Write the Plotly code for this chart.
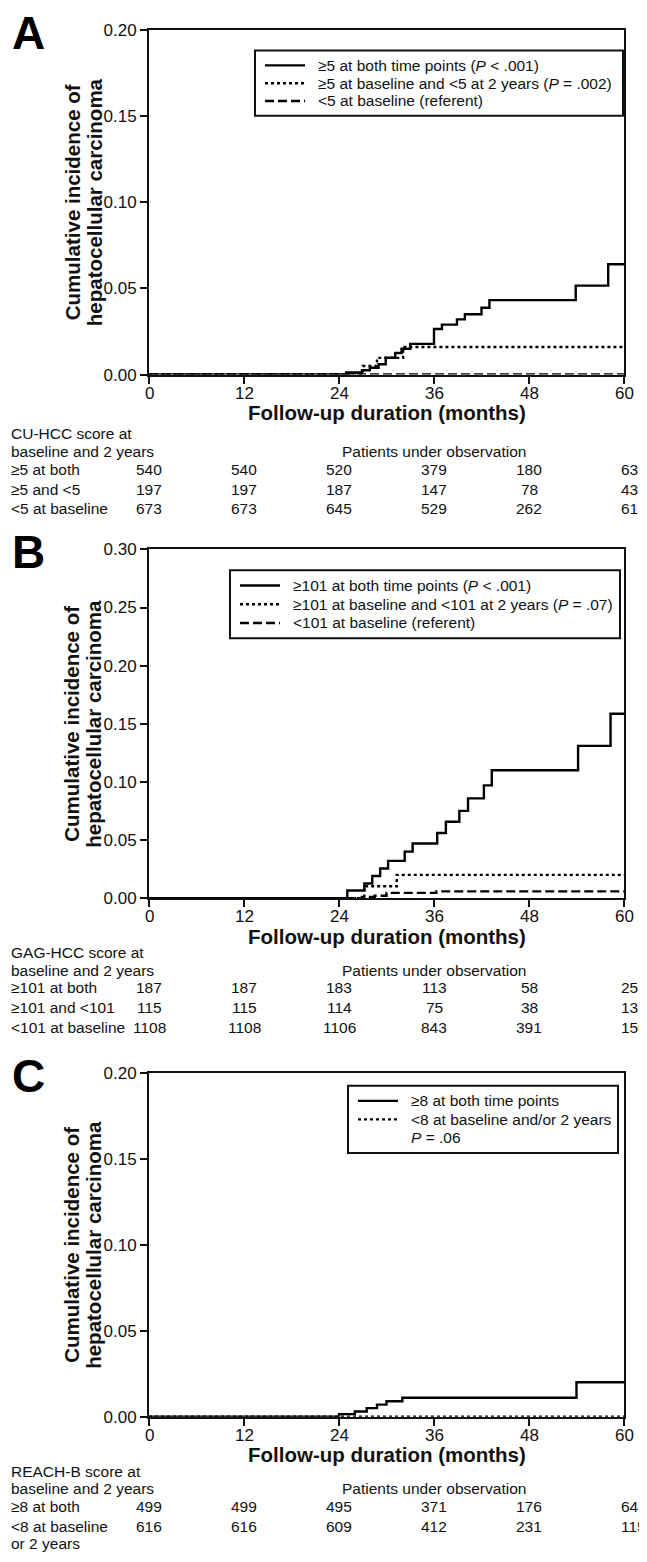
import plotly.graph_objects as go

# The page body has an 8px margin, so the figure is made 8px smaller and every
# position below is given in screen pixels of the 647x1562 window.
SCREEN_W, SCREEN_H = 647, 1562
OX, OY = 8, 8
FW, FH = SCREEN_W - OX, SCREEN_H - OY
FONT = "Liberation Sans, Arial, Helvetica, sans-serif"
INK = "#111"

month_ticks = [0, 12, 24, 36, 48, 60]

# ---------------- Panel A (CU-HCC) ----------------
a_both_x = [0, 24.9, 26.9, 27.9, 29.0, 29.9, 31.1, 31.9, 33.0, 36.0, 37.0, 38.9, 39.9, 42.0, 43.0, 53.9, 58.0, 60]
a_both_y = [0, 0.0012, 0.0025, 0.004, 0.006, 0.0098, 0.0125, 0.015, 0.0178, 0.0264, 0.029, 0.032, 0.035, 0.0388, 0.0432, 0.0516, 0.064, 0.064]
a_mixed_x = [0, 27.0, 28.8, 32.1, 60]
a_mixed_y = [0, 0.005, 0.0097, 0.016, 0.016]
a_low_x = [0, 60]
a_low_y = [0, 0]
a_names = ["≥5 at both time points (<i>P</i> &lt; .001)",
           "≥5 at baseline and &lt;5 at 2 years (<i>P</i> = .002)",
           "&lt;5 at baseline (referent)"]
a_yticks = [0.00, 0.05, 0.10, 0.15, 0.20]
a_head = ["CU-HCC score at", "baseline and 2 years"]
a_rows = ["≥5 at both", "≥5 and &lt;5", "&lt;5 at baseline"]
a_counts = [[540, 540, 520, 379, 180, 63],
            [197, 197, 187, 147, 78, 43],
            [673, 673, 645, 529, 262, 61]]

# ---------------- Panel B (GAG-HCC) ----------------
b_both_x = [0, 25.05, 27.2, 28.2, 29.2, 30.2, 32.3, 33.3, 36.4, 37.5, 39.2, 40.3, 42.3, 43.3, 54.2, 58.3, 60]
b_both_y = [0, 0.0065, 0.0125, 0.019, 0.0255, 0.032, 0.040, 0.047, 0.056, 0.0657, 0.075, 0.0858, 0.097, 0.110, 0.131, 0.1586, 0.1586]
b_mixed_x = [0, 27.2, 31.3, 60]
b_mixed_y = [0, 0.0102, 0.0200, 0.0200]
b_low_x = [0, 26.9, 28.5, 30.0, 36.3, 60]
b_low_y = [0, 0.001, 0.002, 0.0045, 0.0058, 0.0058]
b_names = ["≥101 at both time points (<i>P</i> &lt; .001)",
           "≥101 at baseline and &lt;101 at 2 years (<i>P</i> = .07)",
           "&lt;101 at baseline (referent)"]
b_yticks = [0.00, 0.05, 0.10, 0.15, 0.20, 0.25, 0.30]
b_head = ["GAG-HCC score at", "baseline and 2 years"]
b_rows = ["≥101 at both", "≥101 and &lt;101", "&lt;101 at baseline"]
b_counts = [[187, 187, 183, 113, 58, 25],
            [115, 115, 114, 75, 38, 13],
            [1108, 1108, 1106, 843, 391, 150]]

# ---------------- Panel C (REACH-B) ----------------
c_both_x = [0, 24.0, 26.0, 27.5, 28.8, 30.0, 32.0, 54.0, 60]
c_both_y = [0, 0.0015, 0.003, 0.005, 0.007, 0.009, 0.011, 0.020, 0.020]
c_low_x = [0, 60]
c_low_y = [0, 0]
c_names = ["≥8 at both time points", "&lt;8 at baseline and/or 2 years", "<i>P</i> = .06"]
c_yticks = [0.00, 0.05, 0.10, 0.15, 0.20]
c_head = ["REACH-B score at", "baseline and 2 years"]
c_rows = ["≥8 at both", "&lt;8 at baseline<br>or 2 years"]
c_counts = [[499, 499, 495, 371, 176, 64],
            [616, 616, 609, 412, 231, 115]]

# ---------------- layout geometry (screen pixels) ----------------
X0, X1 = 149, 624
panels = [
    dict(key="", top=21, base=370, ymax=0.20, yticks=a_yticks, letter="A",
         leg=dict(l=255, r=623, t=42, b=108), head=a_head, rows=a_rows, counts=a_counts,
         tab=96),
    dict(key="2", top=547, base=900, ymax=0.30, yticks=b_yticks, letter="B",
         leg=dict(l=230, r=620, t=568, b=637), head=b_head, rows=b_rows, counts=b_counts,
         tab=91),
    dict(key="3", top=1077, base=1425, ymax=0.20, yticks=c_yticks, letter="C",
         leg=dict(l=348, r=618, t=1090, b=1158), head=c_head, rows=c_rows, counts=c_counts,
         tab=91),
]
DASHES = ["solid", "dot", "9px,4px"]


def px(x):
    return (x - OX) / FW


def py(y):
    return 1 - (y - OY) / FH


fig = go.Figure()
LW = 2.4
series = [
    [(a_both_x, a_both_y), (a_mixed_x, a_mixed_y), (a_low_x, a_low_y)],
    [(b_both_x, b_both_y), (b_mixed_x, b_mixed_y), (b_low_x, b_low_y)],
    [(c_both_x, c_both_y), (c_low_x, c_low_y)],
]
names = [a_names, b_names, c_names]

for p, ser, nm in zip(panels, series, names):
    k = p["key"]
    for i, (xs, ys) in enumerate(ser):
        fig.add_trace(go.Scatter(x=xs, y=ys, mode="lines", line_shape="hv",
                                 line=dict(color="black", width=LW, dash=DASHES[i]),
                                 name=nm[i], xaxis="x" + k, yaxis="y" + k,
                                 showlegend=False, hoverinfo="skip"))

layout = dict(width=FW, height=FH, margin=dict(l=0, r=0, t=0, b=0),
              paper_bgcolor="white", plot_bgcolor="white",
              font=dict(family=FONT, color=INK), showlegend=False)

annotations = []
shapes = []
tf = dict(size=15.5, family=FONT, color=INK)
for pi, (p, nm) in enumerate(zip(panels, names)):
    k = p["key"]
    top, base = p["top"], p["base"]
    layout["xaxis" + k] = dict(domain=[px(X0), px(X1)], range=[0, 60], tickvals=month_ticks,
                               ticks="outside", ticklen=7, tickwidth=2, tickcolor=INK,
                               showticklabels=False, layer="above traces",
                               showline=True, linewidth=2, linecolor=INK, mirror=True,
                               showgrid=False, zeroline=False, anchor="y" + k)
    layout["yaxis" + k] = dict(domain=[py(base), py(top)], range=[0, p["ymax"]],
                               tickvals=p["yticks"], tickformat=".2f",
                               ticks="outside", ticklen=7, tickwidth=2, tickcolor=INK,
                               layer="above traces",
                               showline=True, linewidth=2, linecolor=INK, mirror=True,
                               showgrid=False, zeroline=False, anchor="x" + k,
                               tickfont=dict(size=17, family=FONT, color=INK))
    # x tick labels
    for m in month_ticks:
        annotations.append(dict(text=str(m), x=m, y=py(base + 19), xref="x" + k,
                                yref="paper", showarrow=False, xanchor="center",
                                yanchor="middle", font=dict(size=17, family=FONT, color=INK)))
    # panel letter
    annotations.append(dict(text="<b>%s</b>" % p["letter"], x=px(28), y=py(top + 3),
                            xref="paper", yref="paper", showarrow=False,
                            xanchor="center", yanchor="middle",
                            font=dict(size=46, family=FONT, color="black")))
    # y title (two rotated lines)
    for txt, xx in (("Cumulative incidence of", 72), ("hepatocellular carcinoma", 94)):
        annotations.append(dict(text="<b>%s</b>" % txt, x=px(xx), y=py((top + base) / 2),
                                xref="paper", yref="paper", showarrow=False, textangle=-90,
                                xanchor="center", yanchor="middle",
                                font=dict(size=20.5, family=FONT, color=INK)))
    # x title
    annotations.append(dict(text="<b>Follow-up duration (months)</b>",
                            x=px((X0 + X1) / 2), y=py(base + 38.5), xref="paper", yref="paper",
                            showarrow=False, xanchor="center", yanchor="middle",
                            font=dict(size=20.5, family=FONT, color=INK)))
    # legend (box, samples, labels)
    lg = p["leg"]
    shapes.append(dict(type="rect", xref="paper", yref="paper",
                       x0=px(lg["l"]), x1=px(lg["r"]), y0=py(lg["b"]), y1=py(lg["t"]),
                       line=dict(color=INK, width=2), fillcolor="white", layer="above"))
    step = (lg["b"] - lg["t"] - 12) / 3.0
    for i, label in enumerate(nm):
        yy = lg["t"] + 6 + step * (i + 0.5)
        if i < len(series[pi]):
            shapes.append(dict(type="line", xref="paper", yref="paper",
                               x0=px(lg["l"] + 10), x1=px(lg["l"] + 50), y0=py(yy), y1=py(yy),
                               line=dict(color="black", width=LW, dash=DASHES[i]),
                               layer="above"))
        annotations.append(dict(text=label, x=px(lg["l"] + 61), y=py(yy), xref="paper",
                                yref="paper", showarrow=False, xanchor="left",
                                yanchor="middle", font=tf))
    # risk table
    t0 = base + p["tab"]
    annotations.append(dict(text=p["head"][0], x=px(8.5), y=py(t0 - 36), xref="paper",
                            yref="paper", showarrow=False, xanchor="left", yanchor="middle",
                            font=tf))
    annotations.append(dict(text=p["head"][1], x=px(8.5), y=py(t0 - 18), xref="paper",
                            yref="paper", showarrow=False, xanchor="left", yanchor="middle",
                            font=tf))
    annotations.append(dict(text="Patients under observation", x=36, y=py(t0 - 18),
                            xref="x" + k, yref="paper", showarrow=False, xanchor="center",
                            yanchor="middle", font=tf))
    for i, (lab, cnt) in enumerate(zip(p["rows"], p["counts"])):
        yy = t0 + 20 * i
        parts = lab.split("<br>")
        for li, part in enumerate(parts):
            annotations.append(dict(text=part, x=px(8.5), y=py(yy + 17 * li), xref="paper",
                                    yref="paper", showarrow=False, xanchor="left",
                                    yanchor="middle", font=tf))
        for j, (m, v) in enumerate(zip(month_ticks, cnt)):
            last = j == len(month_ticks) - 1
            annotations.append(dict(text=str(v), x=m, y=py(yy), xref="x" + k, yref="paper",
                                    showarrow=False,
                                    xanchor=("left" if last else "center"),
                                    yanchor="middle",
                                    xshift=(-5 if last else 0), font=tf))

layout["annotations"] = annotations
layout["shapes"] = shapes
fig.update_layout(**layout)
fig.write_html("out.html")
